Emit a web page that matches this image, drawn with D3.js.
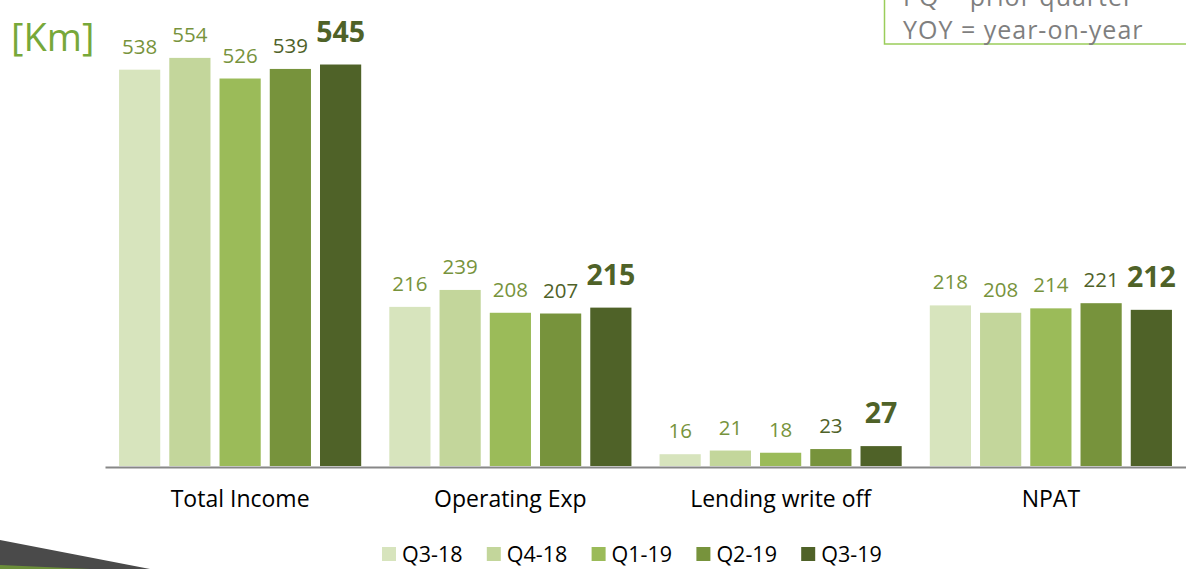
<!DOCTYPE html>
<html>
<head>
<meta charset="utf-8">
<script src="https://cdn.jsdelivr.net/npm/d3@7"></script>
<style>
  body { margin: 0; background: #fff; }
  svg { display: block; font-family: "Open Sans", sans-serif; }
</style>
</head>
<body>
<div class="content"></div>
<script>
var width = 1186, height = 569;
var categories = ["Total Income", "Operating Exp", "Lending write off", "NPAT"];
var quarters = ["Q3-18", "Q4-18", "Q1-19", "Q2-19", "Q3-19"];
var q318 = [538, 216, 16, 218];
var q418 = [554, 239, 21, 208];
var q119 = [526, 208, 18, 214];
var q219 = [539, 207, 23, 221];
var q319 = [545, 215, 27, 212];
var unitLabel = "[Km]";
var noteLines = ["PQ = prior quarter", "YOY = year-on-year"];

var series = [q318, q418, q119, q219, q319];
var barColor = d3.scaleOrdinal().domain(quarters).range(["#d7e4bd", "#c3d69b", "#9bbb59", "#77933c", "#4f6228"]);
var labelColor = d3.scaleOrdinal().domain(quarters).range(["#77933c", "#77933c", "#77933c", "#4f6228", "#4f6228"]);

var svg = d3.select(".content").append("svg")
  .attr("width", width)
  .attr("height", height);

var baseline = 466;
var x0 = d3.scaleBand().domain(categories).range([105, 1186]).paddingInner(0.104).paddingOuter(0.052);
var x1 = d3.scaleBand().domain(quarters).range([0, x0.bandwidth()]).paddingInner(0.18);
var y = d3.scaleLinear().domain([0, 600]).range([baseline, 24]);

// flatten into one row per bar
var bars = [];
categories.forEach(function(c, i) {
  quarters.forEach(function(q, j) {
    bars.push({cat: c, q: q, v: series[j][i], last: j == quarters.length - 1});
  });
});

var g = svg.append("g");

g.selectAll("rect.bar")
  .data(bars)
  .enter()
  .append("rect")
    .attr("class", "bar")
    .attr("x", d => x0(d.cat) + x1(d.q))
    .attr("y", d => y(d.v))
    .attr("width", x1.bandwidth())
    .attr("height", d => baseline - y(d.v))
    .style("fill", d => barColor(d.q));

g.selectAll("text.val")
  .data(bars)
  .enter()
  .append("text")
    .attr("class", "val")
    .attr("x", d => x0(d.cat) + x1(d.q) + x1.bandwidth() / 2)
    .attr("y", d => y(d.v) - (d.last ? 23 : 16))
    .attr("text-anchor", "middle")
    .style("font-size", d => d.last ? "28.5px" : "20.5px")
    .style("font-weight", d => d.last ? "bold" : "normal")
    .style("fill", d => labelColor(d.q))
    .text(d => d.v);

// x axis
var xAxis = svg.append("g")
  .attr("transform", "translate(0," + (baseline + 1) + ")")
  .call(d3.axisBottom(x0).tickSize(0).tickPadding(24));
xAxis.select(".domain").attr("stroke", "#878787").attr("stroke-width", 2);
xAxis.selectAll("text")
  .style("font-family", "'Open Sans', sans-serif")
  .style("font-size", "23px")
  .style("fill", "#000");

// unit label
svg.append("text")
  .attr("x", 11)
  .attr("y", 51)
  .style("font-size", "38px")
  .style("fill", "#77a83a")
  .text(unitLabel);

// abbreviation note box (runs off the top and right edges)
svg.append("rect")
  .attr("x", 884.5)
  .attr("y", -20)
  .attr("width", 320)
  .attr("height", 64)
  .attr("fill", "#fff")
  .attr("stroke", "#9acd5a")
  .attr("stroke-width", 1.5);

svg.selectAll("text.note")
  .data(noteLines)
  .enter()
  .append("text")
    .attr("class", "note")
    .attr("x", 903)
    .attr("y", (d, i) => 6 + i * 33)
    .style("font-size", "25px")
    .style("letter-spacing", "1px")
    .style("fill", "#7f7f7f")
    .text(d => d);

// legend
var legend = svg.append("g")
  .selectAll("g")
  .data(quarters)
  .enter()
  .append("g")
    .attr("transform", (d, i) => "translate(" + (382 + i * 104.8) + ",547)");
legend.append("rect")
  .attr("width", 14)
  .attr("height", 14)
  .style("fill", d => barColor(d));
legend.append("text")
  .attr("x", 20)
  .attr("y", 14.5)
  .style("font-size", "21.5px")
  .style("fill", "#000")
  .text(d => d);

// decorative corner swoosh
var corner = d3.path();
corner.moveTo(0, 540);
corner.lineTo(150, 569);
corner.lineTo(0, 569);
corner.closePath();
svg.append("path").attr("d", corner.toString()).attr("fill", "#4a4a4a");
var strip = d3.path();
strip.moveTo(0, 565);
strip.lineTo(90, 569);
strip.lineTo(0, 569);
strip.closePath();
svg.append("path").attr("d", strip.toString()).attr("fill", "#6b8e3a");
</script>
</body>
</html>
